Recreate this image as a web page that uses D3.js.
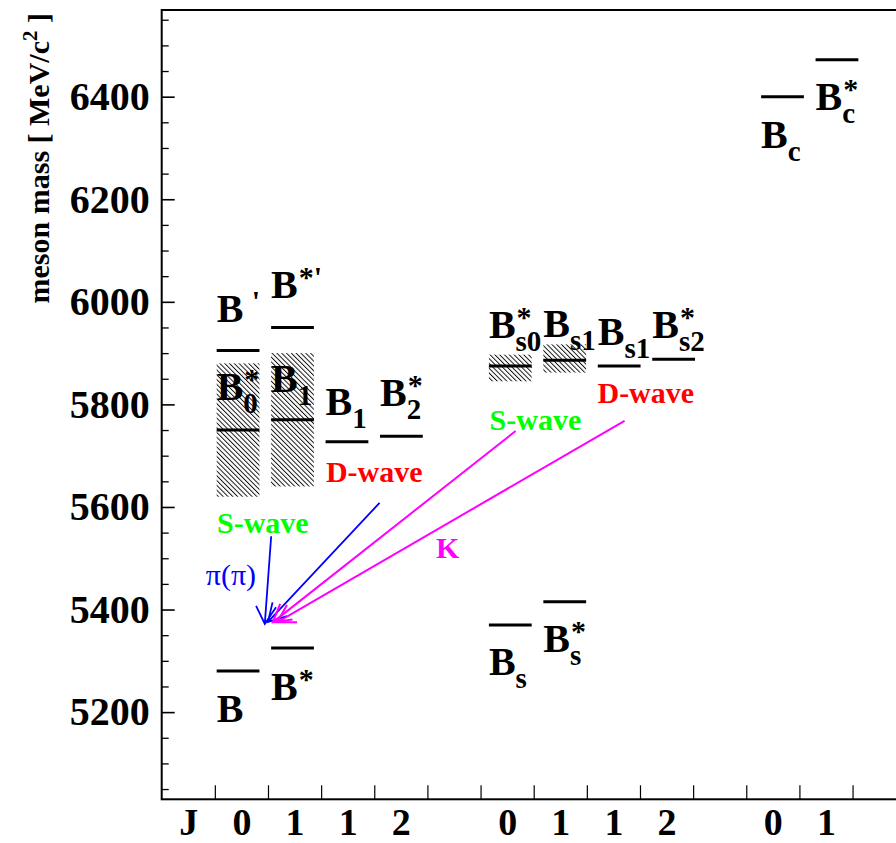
<!DOCTYPE html>
<html>
<head>
<meta charset="utf-8">
<script src="https://cdn.jsdelivr.net/npm/d3@7"></script>
<style>
  body { margin: 0; background: #fff; }
  svg text { font-family: "Liberation Serif", "Times New Roman", serif; font-weight: bold; white-space: pre; }
</style>
</head>
<body>
<svg id="chart" width="896" height="843"></svg>
<script>
// J value written under each bin of the x axis
var jLabels = ["J", "0", "1", "1", "2", "", "0", "1", "1", "2", "", "0", "1"];

// narrow states: mass (MeV/c2), column, label parts, label baseline (MeV/c2)
var levelMass = [5280, 5325, 5905, 5950, 5750, 5770, 5727, 5738, 5370, 5415, 5875, 5886, 5875, 5888, 6400, 6472];
var levelCol  = [1, 2, 1, 2, 1, 2, 3, 4, 6, 7, 6, 7, 8, 9, 11, 12];
var levelSub  = ["", "", "", "", "0", "1", "1", "2", "s", "s", "s0", "s1", "s1", "s2", "c", "c"];
var levelSup  = ["", "*", "\u00a0'", "*'", "*", "", "", "*", "", "*", "*", "", "", "*", "", "*"];
var labelMass = [5181, 5224, 5961, 6007, 5808, 5825, 5779, 5796, 5272, 5317, 5929, 5931, 5916, 5929, 6299, 6374];

// broad states, drawn hatched
var bandCol  = [1, 2, 6, 7];
var bandLow  = [5620, 5640, 5845, 5862];
var bandHigh = [5880, 5900, 5897, 5917];

// decay arrows (column units, MeV/c2)
var arrowKind  = ["pi", "pi", "K", "K"];
var arrowFromX = [2.06, 4.10, 6.66, 8.71];
var arrowFromM = [5543, 5608, 5748, 5768];
var arrowToX   = [1.94, 2.00, 2.09, 2.17];
var arrowToM   = [5372, 5376, 5375, 5375];

// text notes
var noteText = ["S-wave", "D-wave", "S-wave", "D-wave", "\u03c0(\u03c0)", "K"];
var noteKind = ["S", "D", "S", "D", "pi", "K"];
var noteX    = [1.04, 3.09, 6.17, 8.20, 0.83, 5.16];
var noteM    = [5549, 5649, 5750, 5802, 5448, 5500];

var colors = {S: "#00ff00", D: "#ff0000", pi: "#0000ff", K: "#ff00ff"};
var serif = '"Liberation Serif", "Times New Roman", serif';

var svg = d3.select("#chart");
var x = d3.scaleLinear().domain([0, 14]).range([161.7, 905.7]);
var y = d3.scaleLinear().domain([5030, 6569]).range([799.3, 10]);
// level columns are spaced a bit wider than the axis bins
var colX = d3.scaleLinear().domain([0, 13]).range([x(0.01), x(13 * 1.0245 + 0.01)]);
var levelW = x(0.805) - x(0);

// hatch pattern
svg.append("defs").append("pattern")
    .attr("id", "hatch")
    .attr("patternUnits", "userSpaceOnUse")
    .attr("width", 3.4).attr("height", 3.4)
    .attr("patternTransform", "rotate(-45)")
  .append("line")
    .attr("x1", 0.5).attr("y1", 0).attr("x2", 0.5).attr("y2", 3.4)
    .attr("stroke", "#000").attr("stroke-width", 0.9);

// y axis: minor then major ticks
var minor = d3.range(5050, 6551, 50).filter(function(d) { return d % 200 != 0; });
svg.append("g")
    .attr("transform", "translate(" + x(0) + ",0)")
    .call(d3.axisLeft(y).tickValues(minor).tickSize(-7).tickFormat(""))
    .call(function(g) { g.select(".domain").remove(); })
    .selectAll("line").attr("stroke-width", 1.3);

svg.append("g")
    .attr("transform", "translate(" + x(0) + ",0)")
    .call(d3.axisLeft(y).tickValues(d3.range(5200, 6401, 200)).tickSize(-13).tickPadding(12).tickFormat(d3.format("d")))
    .attr("font-family", serif)
    .attr("font-size", 40)
    .call(function(g) { g.select(".domain").remove(); })
    .call(function(g) { g.selectAll("line").attr("stroke-width", 1.6); })
    .selectAll("text").attr("fill", "#000");

// x axis: tick marks on bin edges, J labels at bin centres
svg.append("g")
    .attr("transform", "translate(0," + y(5030) + ")")
    .call(d3.axisBottom(x).tickValues(d3.range(1, 14)).tickSize(-14).tickFormat(""))
    .call(function(g) { g.select(".domain").remove(); })
    .selectAll("line").attr("stroke-width", 1.2);

svg.append("g")
    .attr("transform", "translate(0," + y(5030) + ")")
    .call(d3.axisBottom(x).tickValues(jLabels.map(function(d, i) { return i + 0.5; }))
        .tickSize(0).tickPadding(9).tickFormat(function(d, i) { return jLabels[i]; }))
    .attr("font-family", serif)
    .attr("font-size", 38)
    .call(function(g) { g.select(".domain").remove(); })
    .selectAll("text").attr("fill", "#000");

// frame
svg.append("rect")
    .attr("x", x(0)).attr("y", y(6569))
    .attr("width", x(14) - x(0)).attr("height", y(5030) - y(6569))
    .attr("fill", "none").attr("stroke", "#000").attr("stroke-width", 2);

// y title
var title = svg.append("text")
    .attr("transform", "translate(49,13) rotate(-90)")
    .attr("text-anchor", "end")
    .style("font-size", "30px");
title.append("tspan").text("meson mass [ MeV/c");
title.append("tspan").attr("dy", -12).style("font-size", "21px").text("2");
title.append("tspan").attr("dy", 12).text(" ]");

// hatched broad states
svg.selectAll(".band")
    .data(bandCol)
    .enter().append("rect")
    .attr("class", "band")
    .attr("x", function(d) { return colX(d); })
    .attr("y", function(d, i) { return y(bandHigh[i]); })
    .attr("width", levelW)
    .attr("height", function(d, i) { return y(bandLow[i]) - y(bandHigh[i]); })
    .attr("fill", "url(#hatch)");

// levels
svg.selectAll(".level")
    .data(levelMass)
    .enter().append("line")
    .attr("class", "level")
    .attr("x1", function(d, i) { return colX(levelCol[i]); })
    .attr("x2", function(d, i) { return colX(levelCol[i]) + levelW; })
    .attr("y1", function(d) { return y(d); })
    .attr("y2", function(d) { return y(d); })
    .attr("stroke", "#000")
    .attr("stroke-width", 3);

// level names: B with sub- and superscript
levelMass.forEach(function(m, i) {
    var lx = colX(levelCol[i]), ly = y(labelMass[i]);
    var b = svg.append("text").attr("x", lx).attr("y", ly).style("font-size", "40px").text("B");
    var w = b.node().getComputedTextLength();
    if (levelSub[i]) {
        svg.append("text").attr("x", lx + w).attr("y", ly + 13).style("font-size", "29px").text(levelSub[i]);
    }
    if (levelSup[i]) {
        svg.append("text").attr("x", lx + w + 1).attr("y", ly - 11).style("font-size", "30px").text(levelSup[i]);
    }
});

// arrows
arrowKind.forEach(function(k, i) {
    var fx = x(arrowFromX[i]), fy = y(arrowFromM[i]);
    var tx = x(arrowToX[i]), ty = y(arrowToM[i]);
    var a = Math.atan2(fy - ty, fx - tx), len = 20, half = Math.PI / 6;
    var path = d3.path();
    path.moveTo(fx, fy);
    path.lineTo(tx, ty);
    path.moveTo(tx + len * Math.cos(a + half), ty + len * Math.sin(a + half));
    path.lineTo(tx, ty);
    path.lineTo(tx + len * Math.cos(a - half), ty + len * Math.sin(a - half));
    svg.append("path")
        .attr("d", path.toString())
        .attr("fill", "none")
        .attr("stroke", colors[k])
        .attr("stroke-width", k == "pi" ? 1.8 : 2);
});

// notes
svg.selectAll(".note")
    .data(noteText)
    .enter().append("text")
    .attr("class", "note")
    .attr("x", function(d, i) { return x(noteX[i]); })
    .attr("y", function(d, i) { return y(noteM[i]); })
    .attr("fill", function(d, i) { return colors[noteKind[i]]; })
    .style("font-size", "30px")
    .style("font-weight", function(d, i) { return noteKind[i] == "pi" ? "normal" : "bold"; })
    .text(function(d) { return d; });
</script>
</body>
</html>
